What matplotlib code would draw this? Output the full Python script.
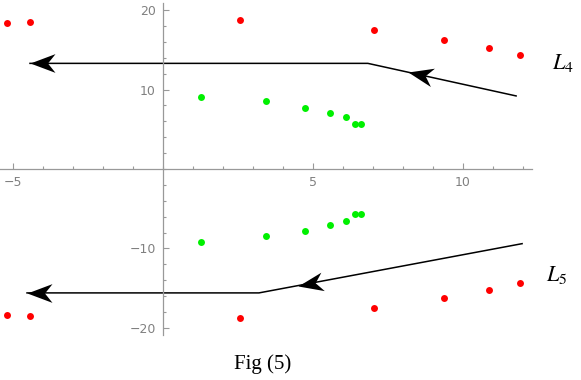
import matplotlib.pyplot as plt
import numpy as np
from matplotlib.path import Path
from matplotlib.markers import MarkerStyle
from matplotlib.transforms import Affine2D
from matplotlib.ticker import MultipleLocator

plt.rcParams['mathtext.fontset'] = 'stix'

# ---- data ----
red_x = [-5.2, -4.43, 2.57, 7.03, 9.37, 10.87, 11.9]
red_y_upper = [18.4, 18.5, 18.7, 17.5, 16.2, 15.2, 14.3]
red_y_lower = [-18.4, -18.5, -18.8, -17.5, -16.3, -15.2, -14.3]

green_x = [1.27, 3.43, 4.73, 5.57, 6.1, 6.4, 6.6]
green_y_upper = [9.1, 8.5, 7.7, 7.0, 6.5, 5.7, 5.7]
green_y_lower = [-9.2, -8.4, -7.8, -7.0, -6.5, -5.7, -5.7]

# orbit curves L4 / L5 (polyline vertices) and where the arrowheads sit
L4_x = [-4.43, 6.83, 11.77]
L4_y = [13.3, 13.3, 9.2]
L4_arrows = [-4.43, 8.17]

L5_x = [-4.53, 3.2, 11.97]
L5_y = [-15.6, -15.6, -9.4]
L5_arrows = [-4.53, 4.5]

x_ticks = [-5, 5, 10]
y_ticks = [-20, -10, 10, 20]

# dart shaped arrowhead, tip at origin, tail pointing to +x
dart = Path([(0, 0), (2, 0.75), (1.4, 0), (2, -0.75), (0, 0)],
            [Path.MOVETO, Path.LINETO, Path.LINETO, Path.LINETO, Path.CLOSEPOLY])


def draw_arrows(ax, xs, ys, tips):
    for tx in tips:
        ty = np.interp(tx, xs, ys)
        i = int(np.clip(np.searchsorted(xs, tx, side='right') - 1, 0, len(xs) - 2))
        p0, p1 = ax.transData.transform([(xs[i], ys[i]), (xs[i + 1], ys[i + 1])])
        ang = np.degrees(np.arctan2(p1[1] - p0[1], p1[0] - p0[0]))
        m = MarkerStyle(dart, transform=Affine2D().rotate_deg(ang))
        ax.plot(tx, ty, marker=m, ms=36, color='k', mew=0, zorder=5)


fig = plt.figure(figsize=(5.81, 3.80), dpi=100)
ax = fig.add_axes([0.0, 45 / 380, 532 / 581, 332 / 380])
ax.set_xlim(-5.43, 12.3)
ax.set_ylim(-20.9, 20.9)

# axes through the origin
for s in ['top', 'right']:
    ax.spines[s].set_visible(False)
for s in ['left', 'bottom']:
    ax.spines[s].set_position(('data', 0))
    ax.spines[s].set_color('#999999')
    ax.spines[s].set_linewidth(0.9)

ax.set_xticks(x_ticks)
ax.set_yticks(y_ticks)
ax.xaxis.set_minor_locator(MultipleLocator(1))
ax.yaxis.set_minor_locator(MultipleLocator(2))
ax.tick_params(which='major', direction='in', length=4.3, width=0.8, color='#999999',
               labelcolor='#808080', labelsize=9, pad=5)
ax.tick_params(which='minor', direction='in', length=2.2, width=0.8, color='#999999')

# points
ax.plot(red_x, red_y_upper, 'o', color='#ff0000', ms=5, mew=0)
ax.plot(red_x, red_y_lower, 'o', color='#ff0000', ms=5, mew=0)
ax.plot(green_x, green_y_upper, 'o', color='#00f000', ms=5, mew=0)
ax.plot(green_x, green_y_lower, 'o', color='#00f000', ms=5, mew=0)

# orbits
ax.plot(L4_x, L4_y, color='k', lw=1.1)
ax.plot(L5_x, L5_y, color='k', lw=1.1)
draw_arrows(ax, L4_x, L4_y, L4_arrows)
draw_arrows(ax, L5_x, L5_y, L5_arrows)

fig.text(563 / 581, 1 - 63 / 380, '$L_4$', fontsize=16, ha='center', va='center')
fig.text(557 / 581, 1 - 275 / 380, '$L_5$', fontsize=16, ha='center', va='center')
fig.text(263 / 581, 1 - 364 / 380, 'Fig (5)', fontsize=15, family='Liberation Serif',
         ha='center', va='center')

fig.savefig('out.png', dpi=100)
